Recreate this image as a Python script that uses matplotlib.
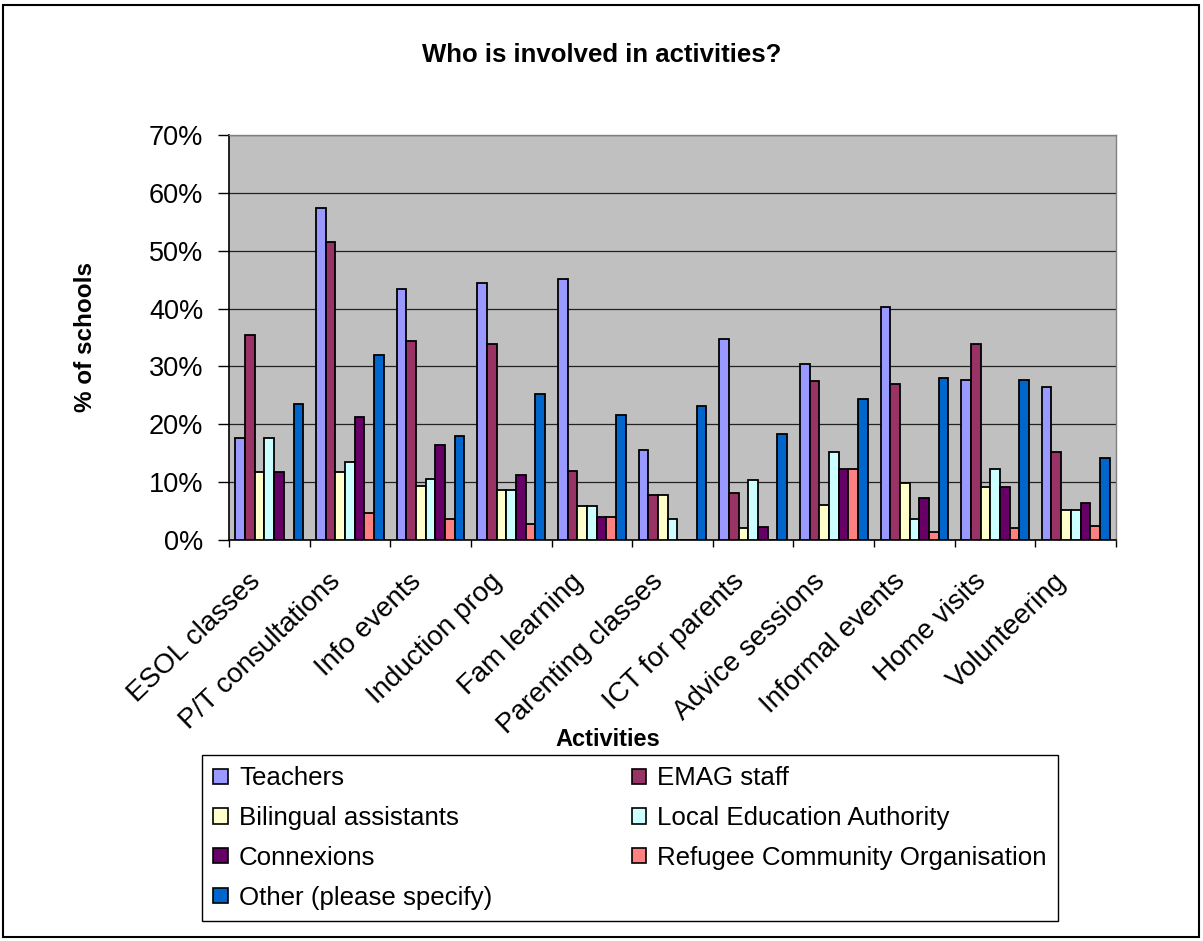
import matplotlib
matplotlib.use("Agg")
import matplotlib.pyplot as plt
import matplotlib.transforms as mtransforms
import numpy as np
from matplotlib.patches import Rectangle, Patch
from matplotlib.ticker import PercentFormatter, FixedLocator

plt.rcParams['font.family'] = ['Liberation Sans', 'DejaVu Sans']

activities = ["ESOL classes", "P/T consultations", "Info events", "Induction prog",
              "Fam learning", "Parenting classes", "ICT for parents", "Advice sessions",
              "Informal events", "Home visits", "Volunteering"]

teachers   = [17.6, 57.3, 43.3, 44.5, 45.1, 15.6, 34.7, 30.5, 40.2, 27.7, 26.5]
emag_staff = [35.4, 51.5, 34.4, 33.9, 11.9,  7.7,  8.2, 27.4, 26.9, 33.9, 15.2]
bilingual  = [11.8, 11.8,  9.4,  8.7,  5.8,  7.7,  2.1,  6.1,  9.8,  9.1,  5.2]
lea        = [17.6, 13.4, 10.6,  8.7,  5.8,  3.7, 10.4, 15.2,  3.6, 12.2,  5.2]
connexions = [11.8, 21.3, 16.5, 11.3,  4.0,  0.0,  2.2, 12.2,  7.3,  9.1,  6.4]
refugee    = [ 0.0,  4.6,  3.6,  2.8,  4.0,  0.0,  0.0, 12.2,  1.3,  2.1,  2.5]
other      = [23.5, 32.0, 17.9, 25.3, 21.6, 23.2, 18.3, 24.4, 28.0, 27.7, 14.1]

series_names = ["Teachers", "EMAG staff", "Bilingual assistants", "Local Education Authority",
                "Connexions", "Refugee Community Organisation", "Other (please specify)"]
series_values = [teachers, emag_staff, bilingual, lea, connexions, refugee, other]
series_colors = ["#9999FF", "#993366", "#FFFFCC", "#CCFFFF", "#660066", "#FF8080", "#0066CC"]

W, H = 1203, 941
fig = plt.figure(figsize=(W / 100, H / 100), dpi=100)
fig.patch.set_facecolor("white")

# outer chart frame
fig.patches.append(Rectangle((3 / W, 4 / H), 1196 / W, 932 / H, transform=fig.transFigure,
                             fill=False, edgecolor="black", linewidth=1.5))

ax = fig.add_axes([229 / W, 1 - 540 / H, (1116 - 229) / W, (540 - 135) / H])
ax.set_facecolor("#C0C0C0")

x = np.arange(len(activities))
bw = 0.12
for i, (vals, col) in enumerate(zip(series_values, series_colors)):
    ax.bar(x + (i - 3) * bw, np.array(vals) / 100, width=bw, color=col,
           edgecolor="black", linewidth=1.3, zorder=3)

ax.set_xlim(-0.5, len(activities) - 0.5)
ax.set_ylim(0, 0.7)
ax.set_yticks(np.arange(0, 0.71, 0.1))
ax.yaxis.set_major_formatter(PercentFormatter(1.0, decimals=0))
ax.grid(axis="y", color="#222222", linewidth=0.9, zorder=1)
ax.set_axisbelow(True)

ax.set_xticks(x)
ax.set_xticklabels(activities, rotation=44, ha="right", va="top", rotation_mode="anchor",
                   fontsize=20)
ax.tick_params(axis="x", which="major", length=0, pad=9)
shift = mtransforms.ScaledTranslation(-22 / 100, -16 / 100, fig.dpi_scale_trans)
for lbl in ax.get_xticklabels():
    lbl.set_transform(lbl.get_transform() + shift)
ax.xaxis.set_minor_locator(FixedLocator(np.arange(-0.5, len(activities), 1.0)))
ax.tick_params(axis="x", which="minor", length=5, width=1, direction="out")
ax.tick_params(axis="y", length=8, width=1, direction="out", labelsize=19.5, pad=10.5)

for side in ["top", "right"]:
    ax.spines[side].set_color("#808080")
    ax.spines[side].set_linewidth(1)
for side in ["left", "bottom"]:
    ax.spines[side].set_color("black")
    ax.spines[side].set_linewidth(1.2)

ax.set_ylabel("% of schools", fontsize=17.5, fontweight="bold")
ax.yaxis.set_label_coords((97 - 229) / 887, 0.5)
fig.text(608 / W, 1 - 740 / H, "Activities", ha="center", va="center",
         fontsize=17, fontweight="bold")
fig.text(602 / W, 1 - 55 / H, "Who is involved in activities?", ha="center", va="center",
         fontsize=18.5, fontweight="bold")

handles = [Patch(facecolor=c, edgecolor="black", linewidth=1.2) for c in series_colors]
order = [0, 2, 4, 6, 1, 3, 5]
leg = fig.legend([handles[k] for k in order], [series_names[k] for k in order],
                 loc="upper left", ncol=2, mode="expand",
                 bbox_to_anchor=(202 / W, 1 - 920 / H, (1058 - 202) / W, (920 - 755) / H),
                 bbox_transform=fig.transFigure,
                 fontsize=18.6, frameon=True, fancybox=False, edgecolor="black",
                 framealpha=1, handlelength=0.57, handleheight=0.54, handletextpad=0.42,
                 labelspacing=0.61, borderpad=0.44, borderaxespad=0)
leg.get_frame().set_linewidth(1.0)

fig.savefig("out.png", dpi=100)
